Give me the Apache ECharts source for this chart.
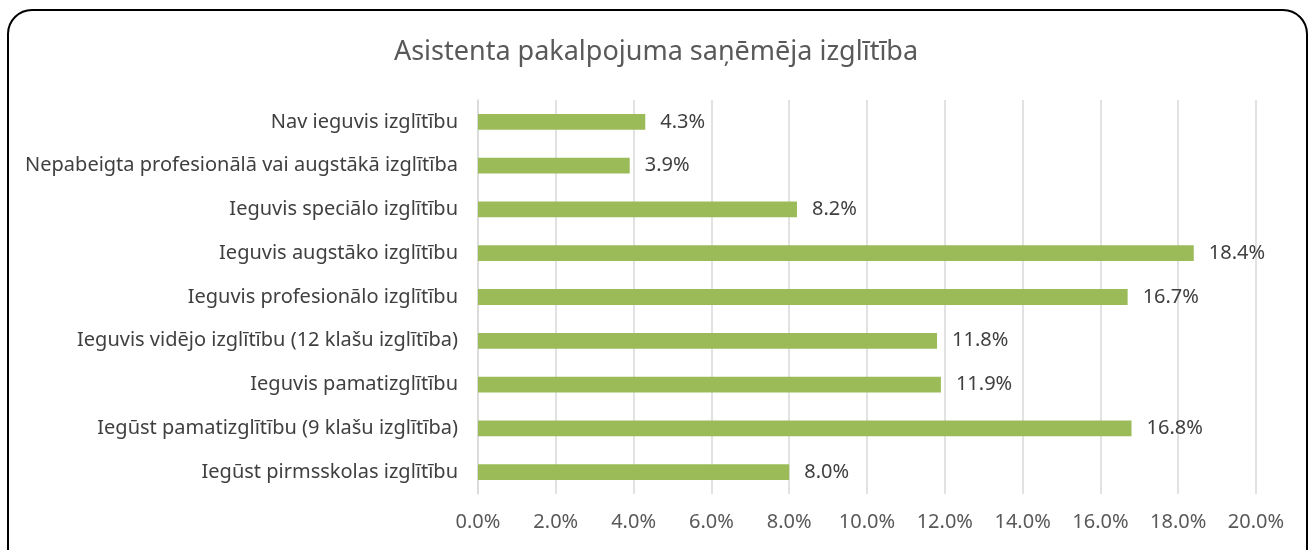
<!DOCTYPE html>
<html>
<head>
<meta charset="utf-8">
<script src="https://cdn.jsdelivr.net/npm/echarts@6/dist/echarts.min.js"></script>
<style>
  html, body { margin: 0; padding: 0; background: #fff; }
  #chart { width: 1312px; height: 550px; }
</style>
</head>
<body>
<div id="chart"></div>
<script>
// kategorijas no augšas uz leju
const categories = [
  'Nav ieguvis izglītību',
  'Nepabeigta profesionālā vai augstākā izglītība',
  'Ieguvis speciālo izglītību',
  'Ieguvis augstāko izglītību',
  'Ieguvis profesionālo izglītību',
  'Ieguvis vidējo izglītību (12 klašu izglītība)',
  'Ieguvis pamatizglītību',
  'Iegūst pamatizglītību (9 klašu izglītība)',
  'Iegūst pirmsskolas izglītību'
]
const values = [4.3, 3.9, 8.2, 18.4, 16.7, 11.8, 11.9, 16.8, 8.0] /* procenti */
const xTicks = [0, 2, 4, 6, 8, 10, 12, 14, 16, 18, 20]

const font = 'Noto Sans'
var myChart = echarts.init(document.getElementById('chart'))
var option = {
  animation: false,
  title: {
    text: 'Asistenta pakalpojuma saņēmēja izglītība',
    left: 'center',
    top: 34,
    textStyle: { fontFamily: font, fontSize: 27, fontWeight: 'normal', color: '#595959' }
  },
  graphic: [
    {
      type: 'rect',
      shape: { x: 8, y: 10, width: 1299, height: 570, r: 24 },
      style: { fill: 'none', stroke: '#000', lineWidth: 2 },
      silent: true
    }
  ],
  grid: { left: 478, right: 56, top: 100, bottom: 56 },
  xAxis: {
    type: 'value',
    min: xTicks[0],
    max: xTicks[xTicks.length - 1],
    interval: 2,
    axisLine: { show: false },
    axisTick: { show: false },
    splitLine: { lineStyle: { color: '#d9d9d9', width: 1.5 } },
    axisLabel: {
      margin: 18,
      fontFamily: font, fontSize: 20, color: '#595959',
      formatter: v => v.toFixed(1) + '%'
    }
  },
  yAxis: {
    type: 'category',
    inverse: true,
    data: categories,
    axisLine: { show: true, lineStyle: { color: '#d9d9d9', width: 1.5 } },
    axisTick: { show: false },
    axisLabel: { margin: 20, fontFamily: font, fontSize: 20, color: '#404040' }
  },
  series: [
    {
      type: 'bar',
      data: values,
      barWidth: '36%',
      itemStyle: { color: '#9bbb59' },
      label: {
        show: true,
        position: 'right',
        distance: 15,
        fontFamily: font, fontSize: 20, color: '#404040',
        formatter: p => p.value.toFixed(1) + '%'
      }
    }
  ]
}
myChart.setOption(option)
</script>
</body>
</html>
